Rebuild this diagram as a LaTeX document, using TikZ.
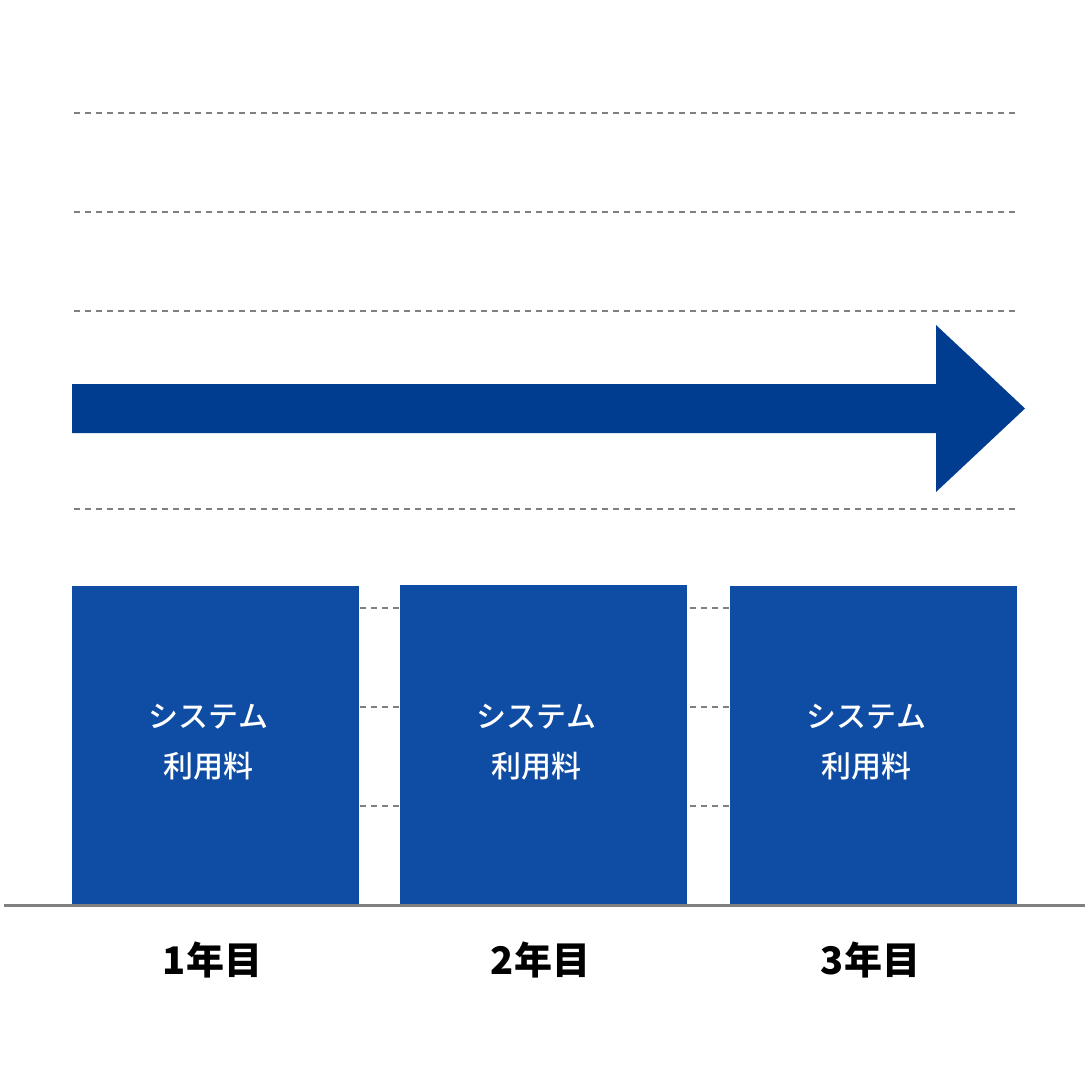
\documentclass[tikz,border=0pt]{standalone}
\usepackage{fontspec}
\setmainfont{Noto Sans CJK JP}
\newfontfamily\jpmedium{Noto Sans CJK JP Medium}
\usetikzlibrary{positioning}
\definecolor{barblue}{HTML}{0F4CA3}
\definecolor{arrowblue}{HTML}{003C90}
\definecolor{gridgray}{HTML}{808080}
\begin{document}
\begin{tikzpicture}[x=1bp,y=-1bp]
\tikzset{ inner sep=0pt, outer sep=0pt,
  bar/.style={fill=barblue, minimum width=287bp, minimum height=320bp, anchor=south west},
  fee/.style={text=white, font=\jpmedium\fontsize{30bp}{50bp}\selectfont, align=center},
  year/.style={text=black, font=\fontsize{38bp}{40bp}\selectfont\bfseries},
  gridline/.style={gridgray, line width=1.5bp, dash pattern=on 6bp off 5bp},
}
\useasboundingbox (0,0) rectangle (1090,1090);

%\draw [lightgray, dashed](0,0) grid (1090,1090);

\foreach \y in {113,212,...,806}
  \draw [gridline] (74,\y) -- (1017,\y);

\fill [arrowblue] (72,384) -- (936,384) -- (936,325) -- (1025,408.5)
  -- (936,492) -- (936,433) -- (72,433) -- cycle;

\node [bar, minimum height=319bp] (bar1) at (72,905) {};
\node [bar] (bar2) at (400,905) {};
\node [bar, minimum height=319bp] (bar3) at (730,905) {};

\node [fee] (fee1) at ([xshift=-7bp,yshift=3bp]bar1.center) {システム\\利用料};
\node [fee] (fee2) at ([xshift=-7bp,yshift=3bp]bar2.center) {システム\\利用料};
\node [fee] (fee3) at ([xshift=-7bp,yshift=3bp]bar3.center) {システム\\利用料};

\node [year, below=55bp of bar1.south, anchor=center, xshift=-3bp] (y1) {1年目};
\node [year, below=55bp of bar2.south, anchor=center, xshift=-3bp] (y2) {2年目};
\node [year, below=55bp of bar3.south, anchor=center, xshift=-3bp] (y3) {3年目};

\coordinate (base l) at (4,905);
\coordinate (base r) at (1085,905);
\draw [gridgray, line width=3bp] (base l) -- (base r);
\end{tikzpicture}
\end{document}
